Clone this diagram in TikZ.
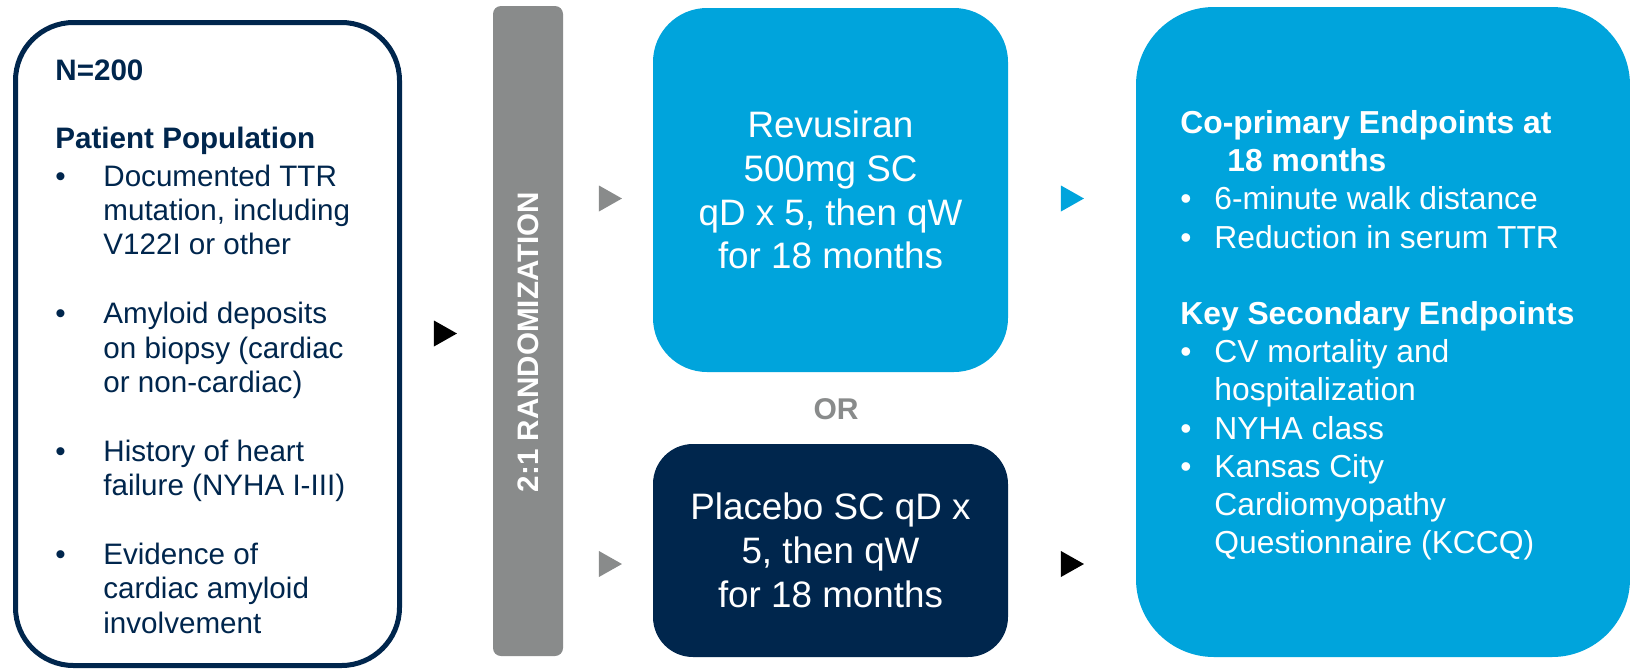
\documentclass[tikz,border=0pt]{standalone}
\usepackage{fontspec}
\setmainfont{Liberation Sans}
\usepackage{xcolor}
\usepackage{tikz}
\usetikzlibrary{positioning}
\usetikzlibrary{shapes.geometric}

\definecolor{trialblue}{RGB}{0,164,220}
\definecolor{trialnavy}{RGB}{0,38,77}
\definecolor{trialgrey}{RGB}{137,139,139}

\newcommand{\listdot}[1]{\makebox[#1][l]{\textbullet}}
\newcommand{\listgap}[1]{\hspace*{#1}}

\begin{document}
\begin{tikzpicture}[
      x=0.5pt, y=-0.5pt,
      type-pop/.style={rectangle, rounded corners=29pt, draw=trialnavy, line width=2.5pt, fill=white, minimum width=192pt, minimum height=321.5pt},
      type-rand/.style={rectangle, rounded corners=4pt, fill=trialgrey, minimum width=35pt, minimum height=325pt},
      type-arm/.style={rectangle, rounded corners=27pt, fill=trialblue, text=white, align=center, minimum width=177.5pt, minimum height=182pt, font=\fontsize{18.4pt}{21.9pt}\selectfont},
      type-placebo/.style={rectangle, rounded corners=20pt, fill=trialnavy, text=white, align=center, minimum width=177.5pt, minimum height=106.5pt, font=\fontsize{18.4pt}{21.9pt}\selectfont},
      type-end/.style={rectangle, rounded corners=39pt, fill=trialblue, minimum width=247pt, minimum height=325pt},
      type-list/.style={anchor=north west, inner sep=0pt, align=left},
      type-tip/.style={isosceles triangle, isosceles triangle stretches, inner sep=0pt, minimum width=13pt, minimum height=11.5pt, anchor=apex}
    ]
      \useasboundingbox[fill=white] (0,0) rectangle (1630,671);

      % boxes
      \node[type-pop] (pop) at (207.5,344) {};
      \node[type-rand] (rand) at (528,331) {};
      \node[type-arm] (drug) at (830.5,190) {Revusiran\\500mg SC\\qD x 5, then qW\\for 18 months};
      \node[type-placebo] (placebo) at (830.5,550.5) {Placebo SC qD x\\5, then qW\\for 18 months};
      \node[type-end] (ends) at (1383,332) {};

      % texts
      \node[type-list, text=trialnavy, font=\fontsize{14.8pt}{17.2pt}\selectfont] (poptext) at (55,59) {%
        {\bfseries N=200}\\[17.2pt]
        {\bfseries Patient Population}\\[1.4pt]
        \listdot{24pt}Documented TTR\\
        \listgap{24pt}mutation, including\\
        \listgap{24pt}V122I or other\\[17.2pt]
        \listdot{24pt}Amyloid deposits\\
        \listgap{24pt}on biopsy (cardiac\\
        \listgap{24pt}or non-cardiac)\\[17.2pt]
        \listdot{24pt}History of heart\\
        \listgap{24pt}failure (NYHA I-III)\\[17.2pt]
        \listdot{24pt}Evidence of\\
        \listgap{24pt}cardiac amyloid\\
        \listgap{24pt}involvement};
      \node[rotate=90, text=white, font=\fontsize{14.8pt}{17pt}\selectfont\bfseries] (randtext) at (528,342) {2:1 RANDOMIZATION};
      \node[text=trialgrey, font=\fontsize{15pt}{17pt}\selectfont\bfseries] (ortext) at (836,409) {OR};
      \node[type-list, text=white, font=\fontsize{15.9pt}{19.1pt}\selectfont] (endtext) at (1180,110) {%
        {\bfseries Co-primary Endpoints at}\\
        \listgap{23.5pt}{\bfseries 18 months}\\
        \listdot{17pt}6-minute walk distance\\
        \listdot{17pt}Reduction in serum TTR\\[19.1pt]
        {\bfseries Key Secondary Endpoints}\\
        \listdot{17pt}CV mortality and\\
        \listgap{17pt}hospitalization\\
        \listdot{17pt}NYHA class\\
        \listdot{17pt}Kansas City\\
        \listgap{17pt}Cardiomyopathy\\
        \listgap{17pt}Questionnaire (KCCQ)};

      % arrow heads
      \node[type-tip, fill=black] (tippop) at (458,333.5) {};
      \node[type-tip, fill=trialgrey] (tipdrug) at (623,198.5) {};
      \node[type-tip, fill=trialgrey] (tipplacebo) at (623,564) {};
      \node[type-tip, fill=trialblue] (tipdrugend) at (1085,198.5) {};
      \node[type-tip, fill=black] (tipplaceboend) at (1085,564) {};
    \end{tikzpicture}
\end{document}
